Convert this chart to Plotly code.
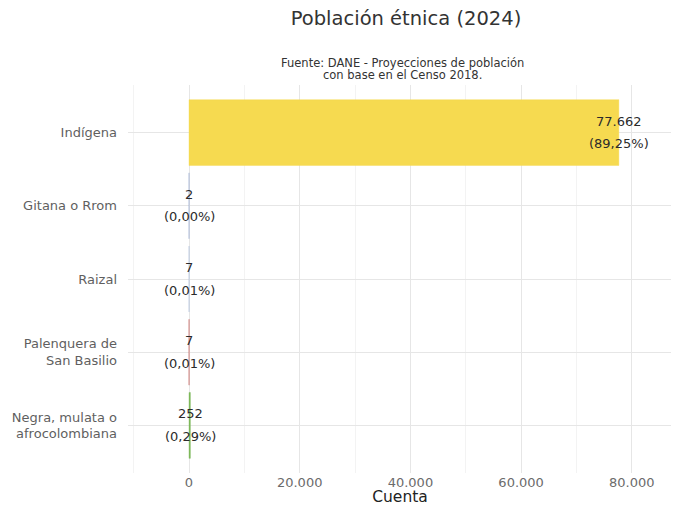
import plotly.graph_objects as go

categorias = ["Indígena", "Gitana o Rrom", "Raizal", "Palenquera de<br>San Basilio",
              "Negra, mulata o<br>afrocolombiana"]
cuentas = [77662, 2, 7, 7, 252]
porcentajes = [89.25, 0.00, 0.01, 0.01, 0.29]
colores = ["#F6DA50", "#8FA3CC", "#A9BBD9", "#C0504D", "#7DB85A"]

x_ticks = [0, 20000, 40000, 60000, 80000]

etiq_cuenta = [f"{v:,}".replace(",", ".") for v in cuentas]
etiq_pct = ["(" + f"{p:.2f}".replace(".", ",") + "%)" for p in porcentajes]

FONT = "DejaVu Sans"
W, H = 671, 498          # page body adds an 8px offset
L, R, T, B = 120, 7, 77, 33
PW, PH = W - L - R, H - T - B

fig = go.Figure()
fig.add_trace(go.Bar(
    x=cuentas, y=categorias, orientation="h", width=0.9,
    marker=dict(color=colores, line=dict(color=colores, width=0.4)),
    showlegend=False, hoverinfo="x+y",
))

anots = []
for cat, v, c_txt, p_txt in zip(categorias, cuentas, etiq_cuenta, etiq_pct):
    anots.append(dict(x=v, y=cat, xref="x", yref="y", text=c_txt, showarrow=False,
                      xanchor="center", yanchor="middle", yshift=11.5,
                      font=dict(family=FONT, size=13, color="#2b2b2b")))
    anots.append(dict(x=v, y=cat, xref="x", yref="y", text=p_txt, showarrow=False,
                      xanchor="center", yanchor="middle", yshift=-11,
                      font=dict(family=FONT, size=13, color="#2b2b2b")))

anots += [
    dict(text="Fuente: DANE - Proyecciones de población", xref="paper", yref="paper",
         x=(394 - L) / PW, y=(H - B - 55) / PH, showarrow=False,
         xanchor="center", yanchor="middle",
         font=dict(family=FONT, size=11.5, color="#333333")),
    dict(text="con base en el Censo 2018.", xref="paper", yref="paper",
         x=(394 - L) / PW, y=(H - B - 67) / PH, showarrow=False,
         xanchor="center", yanchor="middle",
         font=dict(family=FONT, size=11.5, color="#333333")),
]

n = len(categorias)
fig.update_layout(
    width=W, height=H,
    margin=dict(l=L, r=R, t=T, b=B, autoexpand=False),
    paper_bgcolor="white", plot_bgcolor="white",
    font=dict(family=FONT, color="#333333"),
    separators=",.",
    title=dict(text="Población étnica (2024)", xref="container", x=398 / W,
               yref="container", y=1 - 10 / H, xanchor="center", yanchor="middle",
               font=dict(family=FONT, size=19.5, color="#333333")),
    xaxis=dict(
        range=[-11020, 87260], tickvals=x_ticks, tickformat=",.0f",
        showgrid=True, gridcolor="#E6E6E6", gridwidth=1, zeroline=False,
        minor=dict(dtick=10000, tick0=0, showgrid=True, gridcolor="#F3F3F3", gridwidth=0.8),
        showline=False, ticks="", ticklabelstandoff=0,
        tickfont=dict(family=FONT, size=13, color="#6b6b6b"),
        title=dict(text="Cuenta", standoff=3, font=dict(family=FONT, size=15.5, color="#222222")),
        automargin=False, fixedrange=True,
    ),
    yaxis=dict(
        categoryorder="array", categoryarray=categorias,
        range=[n - 0.35, -0.65],
        showgrid=True, gridcolor="#E6E6E6", gridwidth=1, zeroline=False,
        showline=False, ticks="", ticklabelstandoff=10,
        tickfont=dict(family=FONT, size=13, color="#5f5f5f"),
        automargin=False, fixedrange=True,
    ),
    annotations=anots,
)

fig.write_html("out.html")
